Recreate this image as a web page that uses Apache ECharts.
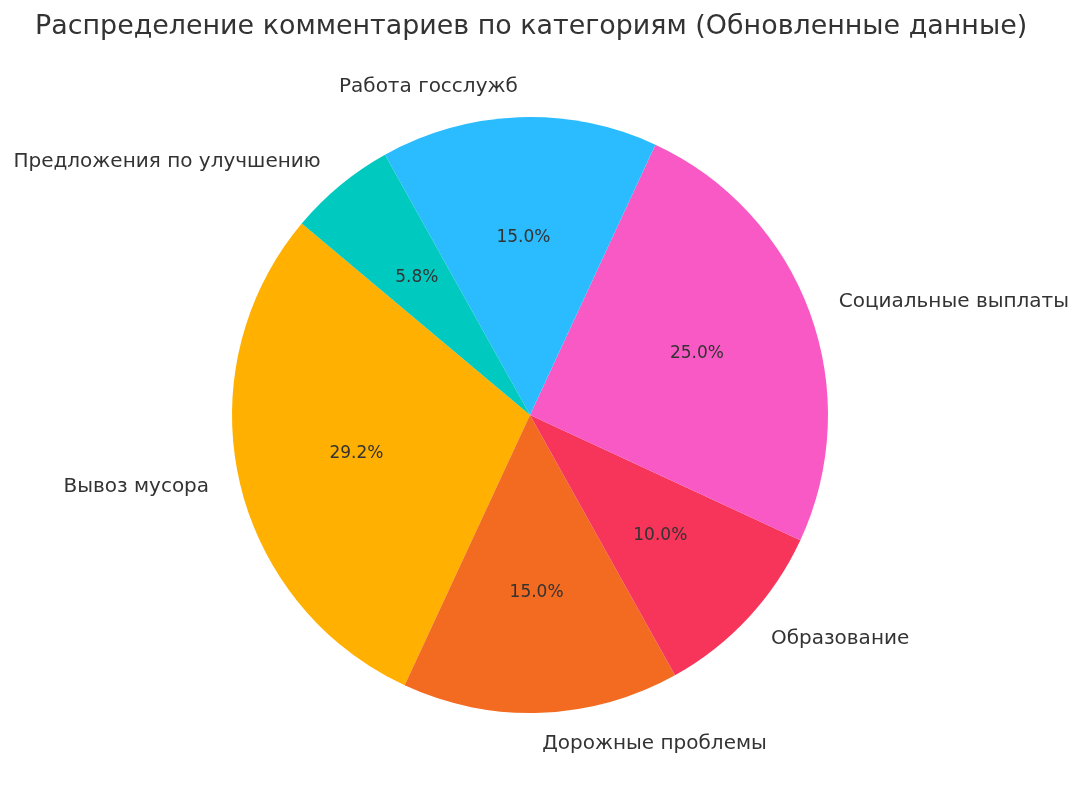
<!DOCTYPE html>
<html>
<head>
<meta charset="utf-8">
<script src="https://cdn.jsdelivr.net/npm/echarts@6/dist/echarts.min.js"></script>
<style>
html,body{margin:0;padding:0;background:#fff;}
#chart{width:1082px;height:800px;}
</style>
</head>
<body>
<div id="chart"></div>
<script>
const categories = ['Вывоз мусора', 'Дорожные проблемы', 'Образование', 'Социальные выплаты', 'Работа госслужб', 'Предложения по улучшению'];
const values = [29.2, 15.0, 10.0, 25.0, 15.0, 5.8];
const colors = ['#FFB000', '#F26B21', '#F7345A', '#F859C4', '#2ABCFE', '#00C9C0'];

const R = 298;
const center = [530, 415];
const data = categories.map((c, i) => ({ name: c, value: values[i], itemStyle: { color: colors[i] } }));
const font = 'DejaVu Sans';

const chart = echarts.init(document.getElementById('chart'));
chart.setOption({
  backgroundColor: '#ffffff',
  animation: false,
  title: {
    text: 'Распределение комментариев по категориям (Обновленные данные)',
    left: 30,
    top: 9,
    textStyle: { fontFamily: font, fontSize: 26.9, fontWeight: 'normal', color: '#333333' }
  },
  series: [
    {
      type: 'pie',
      center: center,
      radius: [0, R],
      startAngle: 140,
      clockwise: false,
      avoidLabelOverlap: false,
      itemStyle: { borderWidth: 0 },
      label: {
        show: true,
        position: 'outside',
        formatter: '{b}',
        fontFamily: font,
        fontSize: 20,
        color: '#333333',
        distanceToLabelLine: 0
      },
      labelLine: { show: false, length: R * 0.1 + 1, length2: 0 },
      emphasis: { disabled: true },
      data: data
    },
    {
      type: 'pie',
      center: center,
      radius: [R * 0.2 - 8, R],
      startAngle: 140,
      clockwise: false,
      silent: true,
      avoidLabelOverlap: false,
      itemStyle: { color: 'rgba(0,0,0,0)', borderWidth: 0 },
      label: {
        show: true,
        position: 'inside',
        formatter: (p) => p.value.toFixed(1) + '%',
        fontFamily: font,
        fontSize: 17,
        color: '#333333'
      },
      labelLine: { show: false },
      emphasis: { disabled: true },
      data: categories.map((c, i) => ({ name: c, value: values[i] }))
    }
  ]
});
</script>
</body>
</html>
